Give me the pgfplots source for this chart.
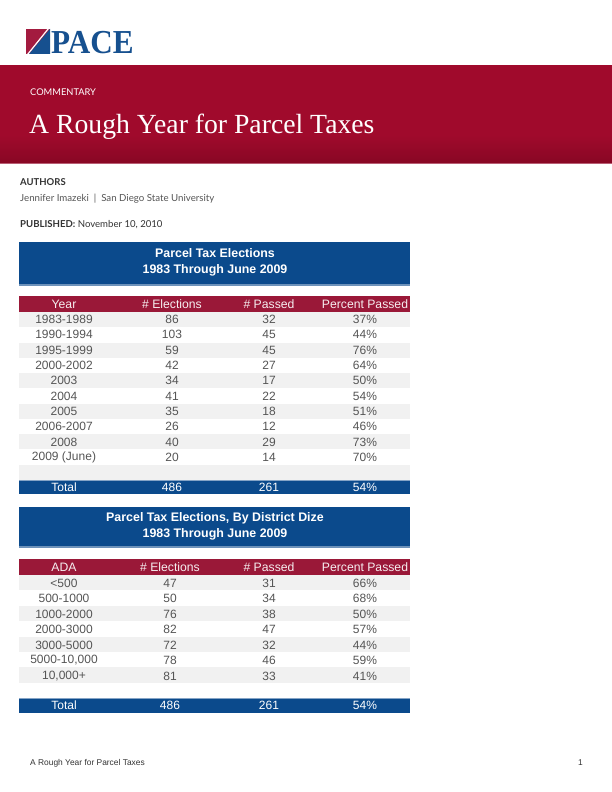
\documentclass[border=0pt]{standalone}
\usepackage{pgfplots}
\pgfplotsset{compat=1.18}
\usepackage{pgfplotstable}
\usepackage{fontspec}
\setmainfont{Liberation Sans}
\newfontfamily\latofont{Lato}
\newfontfamily\seriffont{Liberation Serif}
\definecolor{pacered}{HTML}{A00A2C}
\definecolor{pacereddark}{HTML}{880724}
\definecolor{paceblue}{HTML}{0B4A8C}
\definecolor{hdrred}{HTML}{9A1838}
\definecolor{rowgray}{HTML}{F1F1F1}
\definecolor{bodytext}{HTML}{555555}
\definecolor{logored}{HTML}{A31B3F}
\definecolor{logoblue}{HTML}{16508F}
\definecolor{metatext}{HTML}{333333}
\definecolor{hdrtext}{HTML}{F6EEF0}

\pgfplotstableread[col sep=semicolon]{
y;label;elec;pass;pct
319;1983-1989;86;32;37
334.5;1990-1994;103;45;44
350;1995-1999;59;45;76
365.5;2000-2002;42;27;64
380.5;2003;34;17;50
396;2004;41;22;54
411;2005;35;18;51
426.5;2006-2007;26;12;46
442;2008;40;29;73
457;2009 (June);20;14;70
}\yeartable

\pgfplotstableread[col sep=semicolon]{
y;label;elec;pass;pct
583;<500;47;31;66
598.5;500-1000;50;34;68
614;1000-2000;76;38;50
629.5;2000-3000;82;47;57
645;3000-5000;72;32;44
660.5;5000-10,000;78;46;59
676;10,000+;81;33;41
}\adatable

\pgfplotsset{
  celltext/.style={draw=none, mark=none, point meta=explicit symbolic,
    nodes near coords,
    every node near coord/.append style={anchor=center, inner sep=0pt,
      font=\fontsize{12}{13}\selectfont, text=bodytext}},
  totaltext/.style={draw=none, mark=none, point meta=explicit symbolic,
    nodes near coords,
    every node near coord/.append style={anchor=center, inner sep=0pt,
      font=\fontsize{12}{13}\selectfont, text=white}},
}
\newcommand\hdr[3]{\node[anchor=center, inner sep=0pt, text=hdrtext] at (axis cs:#1,#2) {\fontsize{12.2}{13}\selectfont #3};}

\begin{document}
\begin{tikzpicture}
\begin{axis}[
  width=612pt, height=792pt, scale only axis,
  xmin=0, xmax=612, ymin=0, ymax=792, y dir=reverse,
  axis lines=none, clip=false, enlargelimits=false,
]
\path[fill=white] (axis cs:0,0) rectangle (axis cs:612,792);

% logo
\fill[logored] (axis cs:26,29) rectangle (axis cs:50,54);
\fill[logoblue] (axis cs:50,29) -- (axis cs:50,54) -- (axis cs:29,54) -- cycle;
\draw[white, line width=1.2pt] (axis cs:27.5,54.5) -- (axis cs:48.5,28.5);
\node[anchor=base west, inner sep=0pt, text=logoblue, xscale=0.93]
  at (axis cs:51,54) {\seriffont\bfseries\fontsize{33.5}{33}\selectfont PACE};

% banner
\fill[pacered] (axis cs:0,65) rectangle (axis cs:612,164);
\shade[top color=pacered, bottom color=pacereddark] (axis cs:0,135) rectangle (axis cs:612,163);
\fill[hdrred!70!white] (axis cs:0,162.5) rectangle (axis cs:612,164);
\node[anchor=base west, inner sep=0pt, text=white] at (axis cs:30,95.5)
  {\latofont\fontsize{9.3}{10}\selectfont COMMENTARY};
\node[anchor=base west, inner sep=0pt, text=white] at (axis cs:29,133)
  {\seriffont\fontsize{27.7}{30}\selectfont A Rough Year for Parcel Taxes};

% authors block
\node[anchor=base west, inner sep=0pt, text=metatext] at (axis cs:20,185.5)
  {\latofont\bfseries\fontsize{9.5}{10}\selectfont AUTHORS};
\node[anchor=base west, inner sep=0pt, text=bodytext] at (axis cs:20,201.5)
  {\latofont\fontsize{9.7}{10}\selectfont Jennifer Imazeki \ | \ San Diego State University};
\node[anchor=base west, inner sep=0pt, text=metatext] at (axis cs:20,227.5)
  {\latofont\fontsize{9.6}{10}\selectfont\textbf{PUBLISHED:} November 10, 2010};

% ---------- table 1 ----------
\fill[paceblue] (axis cs:19,242) rectangle (axis cs:410,285);
\fill[paceblue!60!white] (axis cs:19,284) rectangle (axis cs:410,285.5);
\node[anchor=center, text=white, inner sep=0pt] at (axis cs:215,253.5)
  {\bfseries\fontsize{12.4}{13}\selectfont Parcel Tax Elections};
\node[anchor=center, text=white, inner sep=0pt] at (axis cs:215,270)
  {\bfseries\fontsize{12.4}{13}\selectfont 1983 Through June 2009};
\fill[hdrred] (axis cs:19,296) rectangle (axis cs:410,312);
\pgfplotsinvokeforeach{0,2,4,6,8,10}{
  \fill[rowgray] (axis cs:19,{312+15.27*#1}) rectangle (axis cs:410,{312+15.27*(#1+1)});
}
\fill[paceblue] (axis cs:19,480) rectangle (axis cs:410,494);
\fill[paceblue!50!white] (axis cs:19,479.5) rectangle (axis cs:410,480.5);
\hdr{64}{304.5}{Year}
\hdr{172}{304.5}{\# Elections}
\hdr{269}{304.5}{\# Passed}
\hdr{365}{304.5}{Percent Passed}

% ---------- table 2 ----------
\fill[paceblue] (axis cs:19,507) rectangle (axis cs:410,547);
\fill[paceblue!60!white] (axis cs:19,546) rectangle (axis cs:410,547.5);
\node[anchor=center, text=white, inner sep=0pt] at (axis cs:215,518.5)
  {\bfseries\fontsize{12.4}{13}\selectfont Parcel Tax Elections, By District Dize};
\node[anchor=center, text=white, inner sep=0pt] at (axis cs:215,534.5)
  {\bfseries\fontsize{12.4}{13}\selectfont 1983 Through June 2009};
\fill[hdrred] (axis cs:19,559) rectangle (axis cs:410,575);
\pgfplotsinvokeforeach{0,2,4,6}{
  \fill[rowgray] (axis cs:19,{575+15.4*#1}) rectangle (axis cs:410,{575+15.4*(#1+1)});
}
\fill[paceblue] (axis cs:19,698) rectangle (axis cs:410,713);
\fill[paceblue!50!white] (axis cs:19,697.5) rectangle (axis cs:410,698.5);
\hdr{64}{567.5}{ADA}
\hdr{170}{567.5}{\# Elections}
\hdr{269}{567.5}{\# Passed}
\hdr{365}{567.5}{Percent Passed}

% footer
\node[anchor=base west, inner sep=0pt, text=metatext] at (axis cs:30,765)
  {\fontsize{8.4}{9}\selectfont A Rough Year for Parcel Taxes};
\node[anchor=base east, inner sep=0pt, text=metatext] at (axis cs:583,765)
  {\fontsize{8.4}{9}\selectfont 1};

% ---------- data ----------
\addplot[celltext] table[x expr=64, y=y, meta=label] {\yeartable};
\addplot[celltext] table[x expr=172, y=y, meta=elec] {\yeartable};
\addplot[celltext] table[x expr=269, y=y, meta=pass] {\yeartable};
\addplot[celltext, nodes near coords={\pgfplotspointmeta\%}] table[x expr=365, y=y, meta=pct] {\yeartable};
\addplot[totaltext] coordinates {(64,487.5) [Total] (172,487.5) [486] (269,487.5) [261]};
\addplot[totaltext, nodes near coords={\pgfplotspointmeta\%}] coordinates {(365,487.5) [54]};

\addplot[celltext] table[x expr=64, y=y, meta=label] {\adatable};
\addplot[celltext] table[x expr=170, y=y, meta=elec] {\adatable};
\addplot[celltext] table[x expr=269, y=y, meta=pass] {\adatable};
\addplot[celltext, nodes near coords={\pgfplotspointmeta\%}] table[x expr=365, y=y, meta=pct] {\adatable};
\addplot[totaltext] coordinates {(64,705.5) [Total] (170,705.5) [486] (269,705.5) [261]};
\addplot[totaltext, nodes near coords={\pgfplotspointmeta\%}] coordinates {(365,705.5) [54]};
\end{axis}
\end{tikzpicture}
\end{document}
